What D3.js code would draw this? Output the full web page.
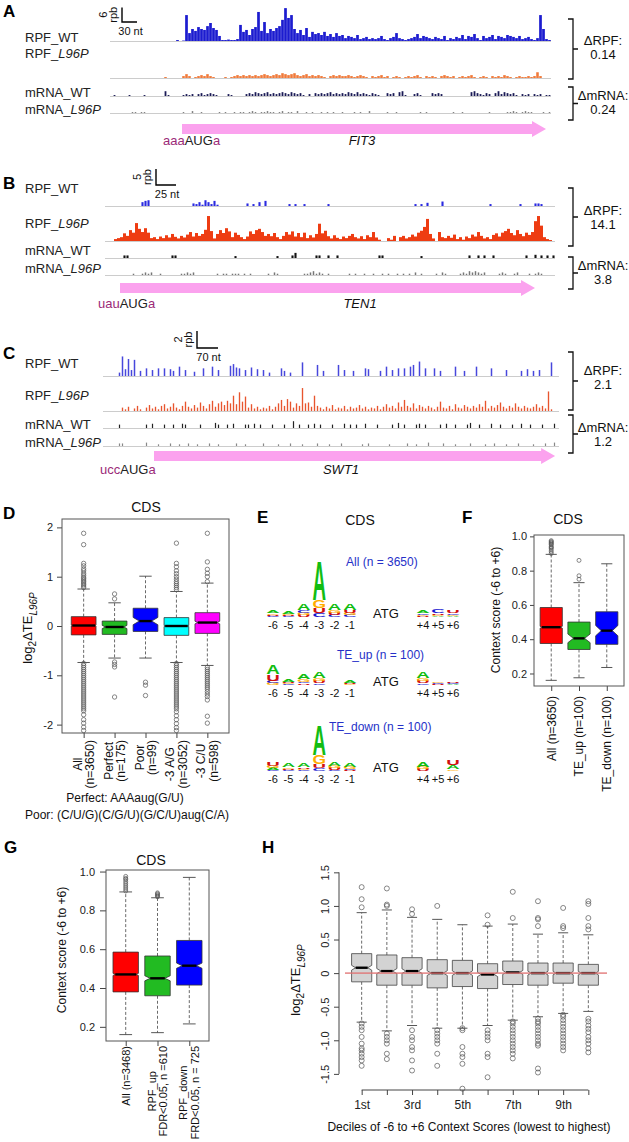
<!DOCTYPE html>
<html><head><meta charset="utf-8">
<script src="https://cdn.jsdelivr.net/npm/d3@7/dist/d3.min.js"></script>
<style>
html,body{margin:0;padding:0;background:#fff;}
svg text{font-family:"Liberation Sans",Arial,Helvetica,sans-serif;}
</style></head><body>
<svg id="fig" width="629" height="1142" xmlns="http://www.w3.org/2000/svg"></svg>
<script>
// ======================= DATA =======================
const trackNames = ["RPF_WT","RPF_L96P","mRNA_WT","mRNA_L96P"];
const geneNames = ["FIT3","TEN1","SWT1"];
const codonParts = [["aaa","AUG","a"],["uau","AUG","a"],["ucc","AUG","a"]];
const deltaRPF = ["0.14","14.1","2.1"];
const deltaMRNA = ["0.24","3.8","1.2"];
const scaleBarRpb = [6,5,2];
const scaleBarNt = [30,25,70];
const ntPerBin = [6,3.75,10];
const cdsNt = [[144,872],[18.75,537.5],[170,1507]];

// FIT3 tracks (rpb per bin)
const fit3RpfWT = [0.4,0,0.2,10.8,3.3,5,4.2,5.8,5,4.6,6.2,7.5,5.4,4.6,2.1,0.4,0.4,0.6,0.4,0.4,0.8,6.7,3.8,4.6,2.5,5,5.8,12.1,4.2,7.9,3.3,5,4.2,5.4,6.2,8.8,13.7,9.6,10.8,5,3.3,4.6,2.5,5.4,1.7,3.8,2.9,3.3,2.5,3.8,2.1,2.9,1.7,3.3,2.1,2.5,1.2,2.1,1.7,1.2,2.5,0.8,1.2,1.7,0.8,1.2,0.8,1.2,2.1,0.8,0.4,1.2,1.7,3.3,1.2,0.8,0.4,0.8,1.2,1.7,2.9,1.2,2.1,1.7,1.2,0.8,1.7,1.2,0.8,2.1,0.4,1.2,0.8,1.7,1.2,2.5,0.8,2.1,1.7,2.9,1.2,0.4,2.1,1.2,1.7,2.5,0.8,2.1,1.7,1.2,2.5,2.1,1.7,1.2,2.1,0.8,1.2,1.7,0.8,0.4,1.2,10.8,5,0.8,0.4];
const fit3RpfL96P = [0.4,0,0,0,0,0,0.8,1.6,0.8,0,0.4,0.8,1.2,0.8,1.6,0.8,0.4,0,0,0,0.4,0,0.4,0.8,1.2,0.8,1.2,0.8,1.2,0.8,1.2,0.8,1.2,1.6,1.2,0.8,1.2,1.6,1.2,2,1.6,1.2,1.6,2,1.2,0.8,1.2,1.6,0.8,1.2,0.8,1.2,0.8,0.4,0,0.8,1.2,0.8,1.2,0.8,0.8,1.2,0.8,0.4,0.8,1.2,0.8,0.4,0,0.8,0.4,0.8,1.2,0.4,0.8,0,0.4,0.8,0.4,0,0.4,0.8,0.4,0.8,1.2,0.4,0,0.8,0.4,0.8,0.4,0,0.8,1.2,0.8,0.4,0.8,0,0.4,0.8,0.4,0.8,1.2,0.4,0,0.4,0.8,0.4,0,0.8,0.4,0.8,0.4,1.2,0.8,0.4,0,0.4,0.8,0.4,0.4,0.8,0.4,0.8,2.4,0.8];
const fit3MrnaWT = [0,0.4,0,0,0,0,0.4,0,0,0, 0,0.4,0,0,0,0,0,0,2,0.4, 0,0,0,0,0.4,0.8,0.4,0.8,0,0.8, 1.2,0.4,0.8,1.2,0.8,0.4,0,0,0,0.8, 0.4,0,0,0,0,0.8,1.2,0.8,1.6,1.2, 0.8,1.2,1.6,0.8,1.2,0.8,1.2,1.6,1.2,0.8, 1.6,1.2,0.8,1.2,0.4,0,0.8,0,1.2,0.8, 1.2,0.8,1.2,1.6,0.8,1.2,0.8,1.2,0.8,1.6, 1.2,0.8,1.6,0.8,1.2,0.8,0.4,1.2,0.8,0.4, 0,0,1.2,0.8,1.2,0,1.6,2,0.4,0, 0,0.8,1.2,0.4,0,0,0,1.2,0.8,1.2, 0.8,0,0,0,0,0,0,0,0,0, 1.6,2,1.2,0.8,0.4,1.2,0.8,0,1.2,2, 0.8,1.6,1.2,0.8,1.2,0.4,0,0.8,0.4,0.8, 0,0.8,0.4,0.8,0,0.4,0.4];
const fit3MrnaL96P = [0,0,0,0,0,0,0,0.4,0.4,0, 0.4,0.4,0,0,0,0,0,0,0,0, 0,0,0,0,0.4,0,0,0.8,0,0, 0.4,0,0,0,0,0,0.4,0,0.4,0, 0,0.4,0,0.4,0.4,0,0.4,0.8,0.4,0, 0.4,0.4,0.8,0.4,0.4,0,0.4,0.8,0,0.4, 0.4,0,0.8,0,0,0.4,0,0.4,0,0, 0.4,0,0.4,0,0.4,0,0,0.4,0,0, 0,0.4,0,0.4,0,0,0.8,0,0,0, 0,0,0.4,0,0,0.4,0,0,0,0, 0,0,0,0.4,0,0.4,0,0,0,0, 0,0,0,0,0.4,0,0,0.4,0,0, 0,0,0,0,0,0,0.4,0,0,0, 0,0,0.4,0.4,0.8,0.4,0,0.4,0.8,0.4, 0.4,0,0,0,0.4,0,0.4];

// TEN1 tracks
const ten1RpfWT = [0,0,0,0,0,0,0,0,0,0, 0,0,1.2,1.6,1.8,0,0,0,0,0, 0,0,0,0,0,0,0,0,0,0.8, 0.6,1.2,0.4,1.8,1.2,0.6,1.6,0.4,0,0, 0,0,0,0,0,0,0,0.8,0,0.6, 0,1.2,0,1.6,0,0,0,0,0,0, 0,0.6,0,0.6,0,0,0.6,0,0,0, 0,0,0,0,0.6,0,0,0,0,0, 0,0,0,0,0,0,0,0,0,0, 0,0,0,0,0,0,0,0,0,0, 0,0,0,0.6,0,0.6,0,1,0,0, 0,0,1.4,0,0,0,0,0,0,0, 0,0,0,0,0,0,0,0,0.6,0, 0,0,0,0,0,0,0,0,0.6,0, 0,0,0,0.8,0.8,0.6,0,0,0,0];
const ten1RpfL96P = [0,0,0,0.6,0.9,1.2,2.4,1.6,3.4,2.6, 5.6,3.8,2.8,4,2.6,0.9,1.2,0.6,1.4,0.9, 1.8,1.1,2.2,1.3,0.8,1.6,1.1,2,2.8,1.4, 2.5,1.6,2.2,3.5,7.8,3.1,0.8,2.2,3.4,2.5, 4,3,1.2,2.6,1.9,1.2,0.6,1.4,3,2.2, 3.4,3.8,2.8,1.6,2.2,1.5,2.5,1.2,0.6,1.6, 2.8,2,3,1.4,2.5,1.2,2.6,0.9,1.8,1.1, 2.2,5.4,2.4,3.2,1.5,0.8,1.8,1,0.6,1.4, 0.9,1.6,2.2,1.2,0.8,1.5,0.6,1.8,1.2,2.8, 1.1,0.4,0,0,0.9,0.4,1.6,0,1.2,1.6, 0.8,1.2,2,1.4,2.6,3.2,4.4,6.9,2.2,0.8, 0,2.8,1.2,0.9,1.6,1,2,0.6,1.2,0.4, 1.4,0.9,2,1.4,2.8,1.6,0.8,1.2,0.6,1.9, 2.4,1.4,2.6,3.1,3.8,2.5,1.8,3.4,2.2,1.5, 2.6,1.9,2.8,6.2,7.8,4.8,1.2,0.6,0.3,0];
const ten1MrnaWT = [0,0,0,0,0,0,0.8,0.8,0,0, 0,0,0,0,0,0,0,0,0,0, 0,0,0.8,0.8,0,0,0,0,0,0, 0,0,0,0,0,0,0,0,0,0, 0,0,0,0.6,0,0,0,0,0,0, 0,0,0,0,0,0,0,0.6,0,0, 0,0,0.8,1.6,0,0,0,0,0,0, 0.8,0.8,0,0,0.8,0,0,0.8,0,0, 0,0,0,0,0,0,0,0,0,0, 0,0.8,0.8,0,0,0,0,0,0,0, 0,0,0,0,0,0.6,0,0,0,0, 0,0,0,0,0,0,0,0,0,0, 0,0.8,0,0,0.8,0,0.8,0,0,0.8, 0,0,0,0,0,0,0,0,0,0, 0.8,0,0,1,0,0.8,0,0.8,0,0.8];
const ten1MrnaL96P = [0,0,0,0,0,0,0,0,0,0.4, 0,0,0.4,0.8,0.4,0.8,0,0,0.4,0, 0,0,0,0,0,0.4,0.4,0.8,0.4,0.8, 0,0,0,0,0,0,0,0.4,0,0.4, 0.4,0,0.4,0.4,0.4,0,0.4,0,0.4,0, 0,0,0,0,0.4,0,0.8,0.4,0,0, 0,0,0,0,0,0,0.4,0.4,0.8,1.2, 0.4,0.8,0.4,0,0.4,0,0,0,0,0, 0,0.4,0,0.4,0,0,0.4,0,0,0.4, 0,0,0.4,0,0.4,0,0,0.4,0,0.4, 0,0.4,0,0.8,0,0.4,0,0,0,0, 0.4,0,0.8,0.4,0,0,0,0,0.4,0.8, 0.4,1.2,0.8,1.2,0.8,0.4,0.8,0,0,0, 0,0.4,0.8,0.4,0,0,0.4,0.8,0,0, 0,0.4,0,0.4,0.8,0.4,0,0,0,0];

// SWT1 tracks ([bin, rpb] pairs for sparse tracks)
const swt1RpfWT = [[5,0.4],[6,2.3],[7,0.8],[8,2.0],[9,0.7],[10,1.9],[12,0.6],[14,0.9],[16,0.7],[18,0.9],[20,0.9],[22,0.8],[23,0.6],[25,1.1],[27,0.7],[30,0.5],[33,0.9],[36,1.1],[38,0.7],[42,1.2],[43,1.4],[44,1.0],[45,0.9],[47,0.7],[49,1.0],[51,0.8],[53,0.7],[55,0.4],[59,0.9],[60,0.6],[62,0.4],[66,1.6],[71,1.3],[73,0.6],[78,1.3],[80,0.7],[83,0.6],[87,0.9],[88,0.8],[92,0.6],[94,1.1],[96,0.7],[98,0.9],[100,0.9],[102,1.1],[103,1.3],[105,1.7],[107,0.9],[110,0.9],[112,0.6],[117,1.1],[120,0.6],[124,1.1],[129,0.9],[134,0.7],[139,0.6],[141,0.8],[143,0.6],[145,0.7],[149,1.6]];
const swt1RpfL96P = [0,0,0,0,0,0,0.4,0.2,0.5,0, 0.3,0.6,0.2,0,0.4,0.7,0.3,0.5,0.2,0.6, 0.8,0.3,0.5,0.9,0.4,0.2,0.6,1.1,0.5,0.3, 0.7,0.4,1.0,0.6,0.3,0.8,1.2,0.5,0.9,1.1, 0.7,1.2,0.9,1.8,0.8,2.2,1.1,1.7,0.4,0.8, 0.3,0.5,0.2,0.4,0.3,0.6,0.2,0.5,0.9,1.3, 0.6,1.4,1.1,0.4,0.9,0.6,2.7,0.9,1.0,0.5, 1.8,0.6,0.4,0.2,0.5,0.3,0.7,0.2,0.4,0.3, 0.6,0.2,0.5,0.3,0.4,0.7,0.3,0.5,0.2,0.4, 0.3,0.6,0.2,0.5,0.8,0.4,0.6,0.3,1.0,0.5, 1.3,0.6,0.4,0.9,0.3,0.7,0.5,0.3,0.6,0.4, 0.2,0.5,1.1,0.4,0.3,0.6,0.2,0.8,0.4,0.3, 0.7,0.5,0.3,0.6,0.4,0.8,0.5,1.2,0.3,0.6, 0.4,0.7,1.0,0.5,0.3,0.6,0.4,0.9,0.5,0.3, 0.6,0.4,0.3,0.5,0.8,0.4,0.6,0.3,2.3,0.2];
const swt1MrnaWT = [[5,0.4],[14,0.4],[16,0.5],[20,0.4],[23,0.4],[26,0.5],[27,0.4],[32,0.4],[37,0.6],[38,0.4],[41,0.4],[43,0.5],[47,0.4],[48,0.4],[50,0.5],[52,0.4],[56,0.4],[60,0.4],[63,0.8],[65,0.4],[68,0.4],[70,0.5],[72,0.4],[76,0.4],[80,0.5],[82,0.4],[84,0.4],[87,0.5],[91,0.4],[96,0.4],[98,0.6],[100,0.4],[104,0.4],[105,0.5],[107,0.4],[112,0.4],[114,0.5],[117,0.4],[121,0.4],[122,0.6],[125,0.4],[129,0.5],[132,0.4],[136,0.4],[139,0.5],[142,0.4],[146,0.4],[150,0.5]];
const swt1MrnaL96P = [[5,0.3],[6,0.3],[14,0.4],[18,0.2],[22,0.3],[25,0.2],[28,0.3],[31,0.2],[35,0.3],[38,0.2],[44,0.3],[47,0.2],[53,0.3],[58,0.2],[62,0.3],[66,0.2],[71,0.3],[75,0.2],[79,0.3],[86,0.2],[88,0.3],[95,0.2],[101,0.3],[104,0.2],[108,0.4],[113,0.3],[117,0.2],[122,0.3],[127,0.2],[130,0.3],[134,0.2],[138,0.3],[143,0.2],[147,0.3],[150,0.4]];

// Panel D
const dCategories = ["All\n(n=3650)","Perfect\n(n=175)","Poor\n(n=99)","-3 A/G\n(n=3052)","-3 C/U\n(n=598)"];
const dColors = ["#ff0000","#22bb22","#0000ff","#00ffff","#ff00ff"];
const dN = [3650,175,99,3052,598];
const dQ1 = [-0.18,-0.17,-0.11,-0.19,-0.15];
const dMed = [0.01,-0.02,0.1,0.0,0.07];
const dQ3 = [0.19,0.1,0.36,0.17,0.27];
const dLo = [-0.74,-0.65,-0.65,-0.74,-0.8];
const dHi = [0.75,0.47,1.01,0.7,0.87];
const dOutliers = [
 [0.78,0.81,0.84,0.87,0.9,0.93,0.96,0.99,1.03,1.07,1.12,1.16,1.22,1.27,1.65,1.88,-0.76,-0.8,-0.84,-0.88,-0.92,-0.96,-1.0,-1.04,-1.08,-1.12,-1.16,-1.2,-1.24,-1.28,-1.32,-1.36,-1.4,-1.44,-1.48,-1.52,-1.56,-1.6,-1.64,-1.68,-1.72,-1.8,-1.9,-1.97,-2.05,-2.12],
 [0.55,0.65,-0.73,-0.78,-0.83,-1.44],
 [-1.14,-1.2,-1.41],
 [0.74,0.78,0.82,0.86,0.9,0.95,1.0,1.06,1.12,1.2,1.27,1.68,-0.76,-0.8,-0.84,-0.88,-0.92,-0.96,-1.0,-1.04,-1.08,-1.12,-1.16,-1.2,-1.24,-1.28,-1.32,-1.36,-1.4,-1.44,-1.48,-1.52,-1.56,-1.6,-1.64,-1.68,-1.74,-1.82,-1.9,-1.98,-2.06,-2.12],
 [0.9,1.0,1.07,1.15,1.3,1.88,-0.84,-0.88,-0.92,-0.96,-1.0,-1.04,-1.08,-1.12,-1.16,-1.2,-1.24,-1.28,-1.33,-1.38,-1.43,-1.5,-1.83,-1.97]
];
const dYTicks = [-2,-1,0,1,2];
const dYTickLabels = ["-2","-1","0","1","2"];
const dNotes = ["Perfect: AAAaug(G/U)","Poor: (C/U/G)(C/G/U)(G/C/U)aug(C/A)"];

// Panel E (sequence logos: stacks bottom->top, [letter, bits])
const logoPositions = ["-6","-5","-4","-3","-2","-1","+4","+5","+6"];
const logoTitles = ["All (n = 3650)","TE_up (n = 100)","TE_down (n = 100)"];
const logoAll = [
 [["C",0.05],["U",0.06],["G",0.08],["A",0.15]],
 [["C",0.05],["U",0.06],["G",0.06],["A",0.12]],
 [["U",0.1],["G",0.12],["C",0.15],["A",0.35]],
 [["C",0.2],["U",0.25],["G",0.4],["A",2.0]],
 [["C",0.1],["U",0.12],["G",0.12],["A",0.3]],
 [["C",0.1],["G",0.12],["U",0.12],["A",0.35]],
 [["U",0.06],["G",0.06],["C",0.08],["A",0.12]],
 [["A",0.06],["G",0.06],["U",0.08],["C",0.18]],
 [["A",0.05],["G",0.06],["C",0.08],["U",0.15]]
];
const logoUp = [
 [["G",0.1],["C",0.1],["U",0.35],["A",0.45]],
 [["C",0.05],["G",0.05],["U",0.05],["A",0.12]],
 [["U",0.08],["C",0.08],["G",0.12],["A",0.25]],
 [["C",0.08],["U",0.12],["G",0.15],["A",0.3]],
 [["A",0.02]],
 [["G",0.05],["U",0.05],["A",0.15]],
 [["C",0.08],["U",0.12],["G",0.15],["A",0.3]],
 [["U",0.04],["C",0.04],["G",0.04]],
 [["A",0.04],["C",0.04],["U",0.04]]
];
const logoDown = [
 [["C",0.06],["A",0.1],["G",0.1],["U",0.2]],
 [["C",0.05],["U",0.06],["G",0.08],["A",0.2]],
 [["C",0.05],["G",0.06],["U",0.08],["A",0.18]],
 [["C",0.15],["U",0.2],["G",0.45],["A",1.5]],
 [["C",0.06],["U",0.1],["G",0.1],["A",0.22]],
 [["U",0.06],["C",0.06],["G",0.1],["A",0.2]],
 [["U",0.1],["G",0.12],["A",0.25]],
 [],
 [["G",0.08],["A",0.2],["U",0.25]]
];

// Panel F
const fCategories = ["All (n=3650)","TE_up (n=100)","TE_down (n=100)"];
const fColors = ["#ff0000","#22bb22","#0000ff"];
const fN = [3650,100,100];
const fQ1 = [0.375,0.34,0.37];
const fMed = [0.47,0.405,0.45];
const fQ3 = [0.585,0.5,0.56];
const fLo = [0.16,0.175,0.235];
const fHi = [0.895,0.73,0.84];
const fOutliers = [[0.9,0.91,0.92,0.93,0.935,0.94,0.95,0.955,0.96,0.965,0.97,0.975],[0.75,0.77,0.86],[]];
const csTicks = [0.2,0.4,0.6,0.8,1.0];
const csTickLabels = ["0.2","0.4","0.6","0.8","1.0"];

// Panel G
const gCategories = ["All (n=3468)","RPF_up\nFDR<0.05, n =610","RPF_down\nFRD<0.05, n = 725"];
const gColors = ["#ff0000","#22bb22","#0000ff"];
const gN = [3468,610,725];
const gQ1 = [0.38,0.36,0.415];
const gMed = [0.47,0.45,0.515];
const gQ3 = [0.585,0.565,0.645];
const gLo = [0.16,0.17,0.215];
const gHi = [0.895,0.865,0.97];
const gOutliers = [[0.9,0.91,0.92,0.93,0.94,0.95,0.96,0.965,0.975],[0.87,0.875,0.88,0.885,0.89],[]];

// Panel H
const hCategories = ["1st","2nd","3rd","4th","5th","6th","7th","8th","9th","10th"];
const hTickLabels = ["1st","","3rd","","5th","","7th","","9th",""];
const hN = [347,347,347,347,347,347,347,347,347,347];
const hQ1 = [-0.13,-0.18,-0.18,-0.22,-0.2,-0.23,-0.17,-0.18,-0.15,-0.18];
const hMed = [0.08,0.03,0.03,0.0,0.0,-0.02,0.01,0.0,0.0,0.0];
const hQ3 = [0.29,0.27,0.23,0.2,0.19,0.14,0.18,0.15,0.15,0.13];
const hLo = [-0.73,-0.86,-0.78,-0.82,-0.82,-0.78,-0.7,-0.65,-0.6,-0.57];
const hHi = [0.9,0.94,0.83,0.8,0.72,0.7,0.73,0.58,0.6,0.57];
const hOutliers = [
 [0.98,1.1,1.28,-0.75,-0.8,-0.85,-0.95,-1.05,-1.12,-1.15,-1.2,-1.25,-1.3,-1.38],
 [1.0,1.02,1.26,-0.9,-0.95,-1.0,-1.05,-1.2,-1.28],
 [0.88,0.95,-0.85,-0.95,-1.0,-1.1,-1.15,-1.3,-1.45],
 [1.0,-0.85,-0.9,-0.95,-1.0,-1.05,-1.2,-1.38],
 [-0.82,-0.85,-1.1,-1.2,-1.25,-1.35,-1.72],
 [0.72,0.86,-0.85,-0.9,-0.95,-1.0,-1.2,-1.25,-1.55],
 [0.82,1.21,-0.72,-0.75,-0.8,-0.85,-0.9,-0.95,-1.0,-1.05,-1.1,-1.15,-1.2,-1.27],
 [0.7,0.8,0.82,1.07,-0.68,-0.72,-0.75,-0.8,-0.85,-0.9,-0.95,-1.0,-1.05,-1.08,-1.42,-1.48],
 [0.67,0.7,0.97,-0.62,-0.65,-0.7,-0.75,-0.8,-0.85,-0.9,-0.95,-1.0,-1.05,-1.1,-1.15],
 [0.65,0.7,0.82,1.03,1.07,-0.68,-0.72,-0.78,-0.83,-0.88,-0.95,-1.0,-1.05,-1.12,-1.18]
];
const hYTicks = [-1.5,-1.0,-0.5,0,0.5,1.0,1.5];
const hYTickLabels = ["-1.5","-1.0","-0.5","0","0.5","1.0","1.5"];

// ======================= DRAWING =======================
const svg = d3.select("#fig");
svg.append("rect").attr("width",629).attr("height",1142).attr("fill","#fff");

function txt(g, x, y, s, o) {
  o = o || {};
  const t = g.append("text").attr("x", x).attr("y", y).text(s)
    .attr("font-size", o.size || 13).attr("fill", o.fill || "#111")
    .attr("text-anchor", o.anchor || "start");
  if (o.weight) t.attr("font-weight", o.weight);
  if (o.style) t.attr("font-style", o.style);
  return t;
}
function sparseToDense(pairs, n) {
  const a = new Array(n).fill(0);
  pairs.forEach(([i, v]) => { a[i] = v; });
  return a;
}

function genePanel(p, gi) {
  const g = svg.append("g");
  const x = d3.scaleLinear().domain([0, p.nBins * ntPerBin[gi]]).range(p.xr);
  const h = d3.scaleLinear().domain([0, scaleBarRpb[gi]]).range([0, p.sbPx]);
  const binW = x(ntPerBin[gi]) - x(0);
  txt(g, 3, p.letterY, p.letter, {size: 17, weight: "bold", fill: "#000"});
  const [sx, sy] = p.sb;
  const sbLen = x(scaleBarNt[gi]) - x(0);
  g.append("path").attr("d", `M${sx},${sy - h(scaleBarRpb[gi])}V${sy}H${sx + sbLen}`)
    .attr("stroke", "#000").attr("fill", "none").attr("stroke-width", 1.4);
  const midY = sy - h(scaleBarRpb[gi]) / 2;
  g.append("text").attr("transform", `translate(${sx - 15},${midY}) rotate(-90)`).attr("text-anchor", "middle")
    .attr("font-size", 11).attr("fill", "#111").text(scaleBarRpb[gi]);
  g.append("text").attr("transform", `translate(${sx - 5},${midY}) rotate(-90)`).attr("text-anchor", "middle")
    .attr("font-size", 11).attr("fill", "#111").text("rpb");
  txt(g, sx + sbLen / 2 + 1, sy + 13, scaleBarNt[gi] + " nt", {size: 11, anchor: "middle"});

  p.tracks.forEach((tr, k) => {
    const t = g.append("text").attr("x", 25).attr("y", tr.ly).attr("font-size", 13).attr("fill", "#222");
    const parts = trackNames[k].split("_");
    t.append("tspan").text(parts[0] + "_");
    t.append("tspan").attr("font-style", parts[1] === "L96P" ? "italic" : "normal").text(parts[1]);
    g.append("line").attr("x1", p.xr[0]).attr("x2", p.xr[1]).attr("y1", tr.base + 0.5).attr("y2", tr.base + 0.5)
      .attr("stroke", "#cccccc").attr("stroke-width", 1);
    const start = tr.start || 0;
    const w = binW * (tr.wf || 1);
    const rows = tr.data.map((v, i) => ({v: v, i: i + start})).filter(d => d.v > 0);
    g.append("g").selectAll("rect").data(rows).join("rect")
      .attr("x", d => x((d.i + 0.5) * ntPerBin[gi]) - w / 2)
      .attr("width", w)
      .attr("y", d => tr.base - h(d.v))
      .attr("height", d => h(d.v))
      .attr("fill", tr.color);
  });

  const bx = 573;
  [[p.br1, deltaRPF[gi], "ΔRPF:", p.dt1], [p.br2, deltaMRNA[gi], "ΔmRNA:", p.dt2]].forEach(([b, val, lab, ty]) => {
    const mid = (b[0] + b[1]) / 2;
    g.append("path").attr("d", `M${bx - 5},${b[0]}H${bx}V${b[1]}H${bx - 5}M${bx},${mid}H${bx + 5}`)
      .attr("stroke", "#111").attr("fill", "none").attr("stroke-width", 1.3);
    txt(g, 603, ty[0], lab, {size: 13, anchor: "middle"});
    txt(g, 603, ty[1], val, {size: 13, anchor: "middle"});
  });

  const ax0 = x(cdsNt[gi][0]), ax1 = x(cdsNt[gi][1]), cy = p.arrowY;
  g.append("path").attr("d", `M${ax0},${cy - 5}H${ax1 - 14}V${cy - 8}L${ax1},${cy}L${ax1 - 14},${cy + 8}V${cy + 5}H${ax0}Z`)
    .attr("fill", "#fba2ee");
  const ct = g.append("text").attr("x", p.codonX).attr("y", p.codonY).attr("font-size", 13);
  const cp = codonParts[gi];
  ct.append("tspan").attr("fill", "#9b2a78").text(cp[0]);
  ct.append("tspan").attr("fill", "#222").text(cp[1]);
  ct.append("tspan").attr("fill", "#9b2a78").text(cp[2]);
  txt(g, p.geneX, p.codonY, geneNames[gi], {size: 13, anchor: "middle", style: "italic"});
}

genePanel({
  letter: "A", letterY: 17, nBins: 147, xr: [110, 551], sbPx: 14.4, sb: [122, 22],
  tracks: [
    {data: fit3RpfWT, start: 22, base: 41, ly: 42, color: "#1c1ccf", wf: 0.9},
    {data: fit3RpfL96P, start: 18, base: 78, ly: 58, color: "#f07a3a", wf: 0.85},
    {data: fit3MrnaWT, start: 0, base: 96, ly: 97, color: "#1a1a55", wf: 0.6},
    {data: fit3MrnaL96P, start: 0, base: 113, ly: 114, color: "#808080", wf: 0.5}
  ],
  br1: [19, 79], br2: [87, 120], dt1: [45, 59], dt2: [100, 114],
  arrowY: 129, codonX: 163, codonY: 145, geneX: 362
}, 0);

genePanel({
  letter: "B", letterY: 189, nBins: 150, xr: [105, 555], sbPx: 16, sb: [156, 185],
  tracks: [
    {data: ten1RpfWT, start: 0, base: 206, ly: 193, color: "#2a2ae0", wf: 0.7},
    {data: ten1RpfL96P, start: 0, base: 241, ly: 228, color: "#ee3c12"},
    {data: ten1MrnaWT, start: 0, base: 258, ly: 255, color: "#111", wf: 0.7},
    {data: ten1MrnaL96P, start: 0, base: 275, ly: 273, color: "#777", wf: 0.5}
  ],
  br1: [188, 246], br2: [257, 289], dt1: [215, 229], dt2: [270, 284],
  arrowY: 288, codonX: 98, codonY: 308, geneX: 360
}, 1);

genePanel({
  letter: "C", letterY: 359, nBins: 152, xr: [103, 559], sbPx: 17, sb: [197, 348],
  tracks: [
    {data: sparseToDense(swt1RpfWT, 152), start: 0, base: 376, ly: 368, color: "#4747dc", wf: 0.5},
    {data: swt1RpfL96P, start: 0, base: 411, ly: 400, color: "#e8552e", wf: 0.45},
    {data: sparseToDense(swt1MrnaWT, 152), start: 0, base: 428, ly: 429, color: "#222", wf: 0.4},
    {data: sparseToDense(swt1MrnaL96P, 152), start: 0, base: 446, ly: 447, color: "#888", wf: 0.4}
  ],
  br1: [352, 410], br2: [415, 453], dt1: [375, 389], dt2: [432, 446],
  arrowY: 456, codonX: 100, codonY: 474, geneX: 341
}, 2);

// ---------- boxplot helper ----------
function drawBoxes(g, x, y, st, o) {
  const bw = x(1 + 0.4) - x(1 - 0.4);
  st.forEach((s, i) => {
    const cx = x(i + 1), L = cx - bw / 2, R = cx + bw / 2;
    const gg = g.append("g");
    gg.append("line").attr("x1", cx).attr("x2", cx).attr("y1", y(s.q3)).attr("y2", y(s.hi))
      .attr("stroke", "#444").attr("stroke-width", 0.8).attr("stroke-dasharray", "3,2");
    gg.append("line").attr("x1", cx).attr("x2", cx).attr("y1", y(s.q1)).attr("y2", y(s.lo))
      .attr("stroke", "#444").attr("stroke-width", 0.8).attr("stroke-dasharray", "3,2");
    [s.hi, s.lo].forEach(v => gg.append("line").attr("x1", cx - bw / 4).attr("x2", cx + bw / 4)
      .attr("y1", y(v)).attr("y2", y(v)).attr("stroke", "#444").attr("stroke-width", 0.9));
    const nh = 1.58 * (s.q3 - s.q1) / Math.sqrt(s.n);
    const nlo = Math.max(s.q1, s.med - nh), nhi = Math.min(s.q3, s.med + nh);
    const npx = Math.abs(y(nlo) - y(nhi)) / 2;
    const ind = bw * 0.25 * Math.min(1, npx / 3);
    const pts = [[L, y(s.q1)], [L, y(nlo)], [L + ind, y(s.med)], [L, y(nhi)], [L, y(s.q3)],
      [R, y(s.q3)], [R, y(nhi)], [R - ind, y(s.med)], [R, y(nlo)], [R, y(s.q1)]];
    gg.append("polygon").attr("points", pts.map(p => p.join(",")).join(" "))
      .attr("fill", s.color).attr("stroke", o.border || "#333").attr("stroke-width", 0.8);
    gg.append("line").attr("x1", L + ind).attr("x2", R - ind).attr("y1", y(s.med)).attr("y2", y(s.med))
      .attr("stroke", "#000").attr("stroke-width", 2.4);
    gg.selectAll("circle").data(s.out).join("circle")
      .attr("cx", cx).attr("cy", d => y(d)).attr("r", o.r || 2.3)
      .attr("fill", "none").attr("stroke", "#555").attr("stroke-width", 0.7);
  });
}
function makeStats(q1, med, q3, lo, hi, out, n, colors) {
  return q1.map((v, i) => ({q1: v, med: med[i], q3: q3[i], lo: lo[i], hi: hi[i], out: out[i], n: n[i], color: colors[i]}));
}
function styleAxis(sel) {
  sel.attr("font-family", "'Liberation Sans',Arial,sans-serif").attr("font-size", 11);
  sel.selectAll("text").attr("fill", "#222");
  sel.selectAll("line").attr("stroke", "#444");
}
function rotLabels(g, x, yTop, labels, size) {
  labels.forEach((lab, i) => {
    const lines = lab.split("\n");
    const cx = x(i + 1);
    const lh = size * 1.05;
    const ws = lines.map(l => { const t = g.append("text").attr("font-size", size).text(l); const w = t.node().getComputedTextLength(); t.remove(); return w; });
    const maxW = Math.max.apply(null, ws);
    const cy = yTop + maxW / 2;
    lines.forEach((l, j) => {
      const off = (j - (lines.length - 1) / 2) * lh;
      g.append("text").attr("transform", `translate(${cx + off + size * 0.36},${cy}) rotate(-90)`)
        .attr("text-anchor", "middle").attr("font-size", size).attr("fill", "#111").text(l);
    });
  });
}
function yTitleCS(g, x, y) {
  g.append("text").attr("transform", `translate(${x},${y}) rotate(-90)`).attr("text-anchor", "middle")
    .attr("font-size", 12).attr("fill", "#111").text("Context score (-6 to +6)");
}
function yTitleTE(g, x, y) {
  const t = g.append("text").attr("transform", `translate(${x},${y}) rotate(-90)`).attr("text-anchor", "middle")
    .attr("font-size", 13).attr("fill", "#111");
  t.append("tspan").text("log");
  t.append("tspan").attr("dy", 4).attr("font-size", 10).text("2");
  t.append("tspan").attr("dy", -4).text("ΔTE");
  t.append("tspan").attr("dy", 5).attr("font-size", 10).attr("font-style", "italic").text("L96P");
}

// ---------- Panel D ----------
{
  const g = svg.append("g");
  const x = d3.scaleLinear().domain([0.3, 5.7]).range([62, 229]);
  const y = d3.scaleLinear().domain([-2.17, 2.17]).range([733, 519]);
  txt(g, 3, 519, "D", {size: 17, weight: "bold", fill: "#000"});
  txt(g, 146, 512, "CDS", {size: 14, anchor: "middle"});
  g.append("g").attr("transform", "translate(62,0)")
    .call(d3.axisLeft(y).tickValues(dYTicks).tickFormat((d, i) => dYTickLabels[i]).tickSize(5).tickPadding(4))
    .call(s => s.select(".domain").remove()).call(styleAxis);
  g.append("g").attr("transform", "translate(0,733)")
    .call(d3.axisBottom(x).tickValues([1, 2, 3, 4, 5]).tickFormat("").tickSize(5))
    .call(s => s.select(".domain").remove()).call(styleAxis);
  drawBoxes(g, x, y, makeStats(dQ1, dMed, dQ3, dLo, dHi, dOutliers, dN, dColors), {r: 2.2});
  g.append("rect").attr("x", 62).attr("y", 519).attr("width", 167).attr("height", 214)
    .attr("fill", "none").attr("stroke", "#555").attr("stroke-width", 1);
  rotLabels(g, x, 740, dCategories, 12);
  yTitleTE(g, 32, 628);
  txt(g, 125, 802, dNotes[0], {size: 12, anchor: "middle"});
  txt(g, 127, 819, dNotes[1], {size: 12, anchor: "middle"});
}

// ---------- Panel E ----------
{
  const g = svg.append("g");
  txt(g, 257, 523, "E", {size: 17, weight: "bold", fill: "#000"});
  txt(g, 360, 525, "CDS", {size: 14, anchor: "middle"});
  const colX = logoPositions.map((p, i) => i < 6 ? 273 + i * 15.4 : 423 + (i - 6) * 15);
  const logoColors = {A: "#12bd12", C: "#1414d0", G: "#ffad00", U: "#d01010"};
  const adv = {A: 0.722, C: 0.722, G: 0.778, U: 0.722};
  const bits = d3.scaleLinear().domain([0, 1]).range([0, 20]);
  const logos = [logoAll, logoUp, logoDown];
  const bases = [617, 685, 771];
  const titlePos = [[346, 566], [337, 659], [329, 731]];
  logos.forEach((lg, li) => {
    const base = bases[li];
    txt(g, titlePos[li][0], titlePos[li][1], logoTitles[li], {size: 12, fill: "#2630c8"});
    lg.forEach((st, i) => {
      let yy = base;
      st.forEach(([L, b]) => {
        const hp = bits(b);
        const sxk = 13.5 / (adv[L] * 100);
        const syk = hp / (71.6);
        g.append("text").attr("font-size", 100).attr("font-weight", "bold").attr("fill", logoColors[L])
          .attr("text-anchor", "middle").attr("transform", `translate(${colX[i]},${yy}) scale(${sxk},${syk})`).text(L);
        yy -= hp;
      });
    });
    logoPositions.forEach((p, i) => txt(g, colX[i], base + 12, p, {size: 11, anchor: "middle"}));
    txt(g, 386, base + 1, "ATG", {size: 13, anchor: "middle"});
  });
}

// ---------- Panel F ----------
{
  const g = svg.append("g");
  const x = d3.scaleLinear().domain([0.38, 3.62]).range([534, 624]);
  const y = d3.scaleLinear().domain([0.127, 1.008]).range([686, 535]);
  txt(g, 462, 523, "F", {size: 17, weight: "bold", fill: "#000"});
  txt(g, 568, 524, "CDS", {size: 14, anchor: "middle"});
  g.append("g").attr("transform", "translate(534,0)")
    .call(d3.axisLeft(y).tickValues(csTicks).tickFormat((d, i) => csTickLabels[i]).tickSize(4).tickPadding(3))
    .call(s => s.select(".domain").remove()).call(styleAxis);
  g.append("g").attr("transform", "translate(0,686)")
    .call(d3.axisBottom(x).tickValues([1, 2, 3]).tickFormat("").tickSize(5))
    .call(s => s.select(".domain").remove()).call(styleAxis);
  drawBoxes(g, x, y, makeStats(fQ1, fMed, fQ3, fLo, fHi, fOutliers, fN, fColors), {r: 2});
  g.append("rect").attr("x", 534).attr("y", 535).attr("width", 90).attr("height", 151)
    .attr("fill", "none").attr("stroke", "#555").attr("stroke-width", 1);
  rotLabels(g, x, 696, fCategories, 12);
  yTitleCS(g, 500, 610);
}

// ---------- Panel G ----------
{
  const g = svg.append("g");
  const x = d3.scaleLinear().domain([0.38, 3.62]).range([106, 209]);
  const y = d3.scaleLinear().domain([0.127, 1.008]).range([1041, 870]);
  txt(g, 4, 853, "G", {size: 17, weight: "bold", fill: "#000"});
  txt(g, 151, 865, "CDS", {size: 14, anchor: "middle"});
  g.append("g").attr("transform", "translate(106,0)")
    .call(d3.axisLeft(y).tickValues(csTicks).tickFormat((d, i) => csTickLabels[i]).tickSize(6).tickPadding(5))
    .call(s => s.select(".domain").remove()).call(styleAxis);
  g.append("g").attr("transform", "translate(0,1041)")
    .call(d3.axisBottom(x).tickValues([1, 2, 3]).tickFormat("").tickSize(5))
    .call(s => s.select(".domain").remove()).call(styleAxis);
  drawBoxes(g, x, y, makeStats(gQ1, gMed, gQ3, gLo, gHi, gOutliers, gN, gColors), {r: 2});
  g.append("rect").attr("x", 106).attr("y", 870).attr("width", 103).attr("height", 171)
    .attr("fill", "none").attr("stroke", "#555").attr("stroke-width", 1);
  rotLabels(g, x, 1046, gCategories, 11);
  yTitleCS(g, 66, 950);
}

// ---------- Panel H ----------
{
  const g = svg.append("g");
  const x = d3.scaleLinear().domain([0.1, 10.9]).range([339, 611]);
  const y = d3.scaleLinear().domain([-1.74, 1.52]).range([1090, 871]);
  txt(g, 262, 853, "H", {size: 17, weight: "bold", fill: "#000"});
  const ya = g.append("g").attr("transform", "translate(339,0)")
    .call(d3.axisLeft(y).tickValues(hYTicks).tickFormat((d, i) => hYTickLabels[i]).tickSize(5))
    .call(s => s.select(".domain").remove()).call(styleAxis);
  ya.selectAll(".tick text").attr("x", 0).attr("dy", 0).attr("text-anchor", "middle")
    .attr("transform", "translate(-10,0) rotate(-90)");
  ya.append("line").attr("x1", 0).attr("x2", 0).attr("y1", y(hYTicks[0])).attr("y2", y(hYTicks[hYTicks.length - 1])).attr("stroke", "#444");
  const xa = g.append("g").attr("transform", "translate(0,1090)")
    .call(d3.axisBottom(x).tickValues(d3.range(1, 11)).tickFormat((d, i) => hTickLabels[i]).tickSize(5).tickPadding(5))
    .call(s => s.select(".domain").remove()).call(styleAxis);
  xa.selectAll(".tick text").attr("font-size", 12);
  xa.append("line").attr("x1", x(1)).attr("x2", x(10)).attr("y1", 0).attr("y2", 0).attr("stroke", "#444");
  drawBoxes(g, x, y, makeStats(hQ1, hMed, hQ3, hLo, hHi, hOutliers, hN, hN.map(() => "#d3d3d3")), {r: 2.5, border: "#444"});
  g.append("line").attr("x1", 345).attr("x2", 607).attr("y1", y(0)).attr("y2", y(0))
    .attr("stroke", "#e07070").attr("stroke-opacity", 0.75).attr("stroke-width", 1.6);
  txt(g, 469, 1131, "Deciles of -6 to +6 Context Scores (lowest to highest)", {size: 12, anchor: "middle"});
  yTitleTE(g, 300, 980);
}
</script></body></html>
